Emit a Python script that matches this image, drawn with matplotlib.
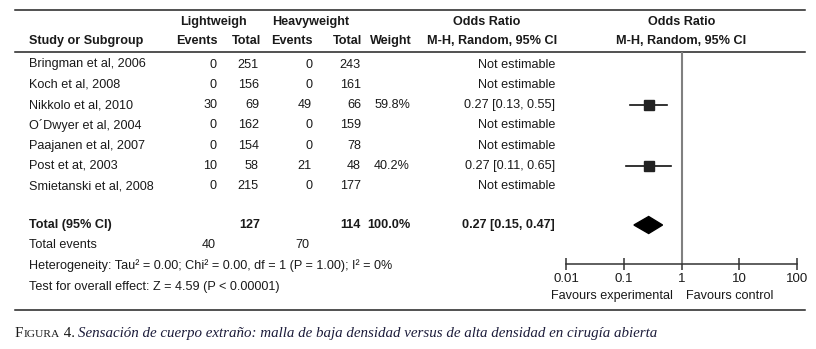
import matplotlib

matplotlib.use("Agg")
import matplotlib.pyplot as plt
from matplotlib.patches import Polygon

plt.rcParams["font.family"] = ["Liberation Sans", "DejaVu Sans"]

# --- data -------------------------------------------------------------
studies = [
    "Bringman et al, 2006",
    "Koch et al, 2008",
    "Nikkolo et al, 2010",
    "O\u00b4Dwyer et al, 2004",
    "Paajanen et al, 2007",
    "Post et at, 2003",
    "Smietanski et al, 2008",
]
light_events = [0, 0, 30, 0, 0, 10, 0]
light_total = [251, 156, 69, 162, 154, 58, 215]
heavy_events = [0, 0, 49, 0, 0, 21, 0]
heavy_total = [243, 161, 66, 159, 78, 48, 177]
weights = [None, None, 59.8, None, None, 40.2, None]
odds = [None, None, 0.27, None, None, 0.27, None]
ci_low = [None, None, 0.13, None, None, 0.11, None]
ci_high = [None, None, 0.55, None, None, 0.65, None]

total_light, total_heavy = 127, 114
events_light, events_heavy = 40, 70
pooled_or, pooled_lo, pooled_hi = 0.27, 0.15, 0.47

ticks = [0.01, 0.1, 1, 10, 100]
tick_labels = ["0.01", "0.1", "1", "10", "100"]

heterogeneity = "Heterogeneity: Tau\u00b2 = 0.00; Chi\u00b2 = 0.00, df = 1 (P = 1.00); I\u00b2 = 0%"
overall = "Test for overall effect: Z = 4.59 (P < 0.00001)"
caption = ("Sensación de cuerpo extraño: malla de baja densidad versus "
           "de alta densidad en cirugía abierta")

# --- layout (pixel coords) ---------------------------------------------
W, H = 816, 349
FS = 9.1
INK = "#1a1a1a"
row_y = [64.5 + 20.3 * i for i in range(len(studies))]
y_total, y_events, y_het, y_test = 225, 245.5, 266, 287
axis_y, head_line = 264, 52
x0, x1 = 566, 797

fig = plt.figure(figsize=(W / 100, H / 100), dpi=100)
ax = fig.add_axes([0, 0, 1, 1])
ax.set_xlim(0, W)
ax.set_ylim(H, 0)
ax.axis("off")


def txt(x, y, s, ha="left", bold=False, **kw):
    ax.text(x, y, s, ha=ha, va="center", fontsize=FS, color=INK,
            fontweight="bold" if bold else "normal", **kw)


# rules
for y in (10, head_line, 310):
    ax.plot([15, 805], [y, y], color="#222222", lw=1.1)

# headers
txt(180, 22, "Lightweigh", bold=True)
txt(272, 22, "Heavyweight", bold=True)
txt(487, 22, "Odds Ratio", ha="center", bold=True)
txt(682, 22, "Odds Ratio", ha="center", bold=True)
txt(29, 41, "Study or Subgroup", bold=True)
for x, s in [(218, "Events"), (261, "Total"), (313, "Events"),
             (362, "Total"), (412, "Weight"), (557, "M-H, Random, 95% CI")]:
    txt(x, 41, s, ha="right", bold=True)
txt(681, 41, "M-H, Random, 95% CI", ha="center", bold=True)

# study rows
for i, y in enumerate(row_y):
    txt(29, y, studies[i])
    txt(217, y, str(light_events[i]), ha="right")
    txt(259, y, str(light_total[i]), ha="right")
    txt(312, y, str(heavy_events[i]), ha="right")
    txt(361, y, str(heavy_total[i]), ha="right")
    if weights[i] is not None:
        txt(410, y, f"{weights[i]:.1f}%", ha="right")
        txt(555, y, f"{odds[i]:.2f} [{ci_low[i]:.2f}, {ci_high[i]:.2f}]", ha="right")
    else:
        txt(555, y, "Not estimable", ha="right")

# totals
txt(29, y_total, "Total (95% CI)", bold=True)
txt(260, y_total, str(total_light), ha="right", bold=True)
txt(361, y_total, str(total_heavy), ha="right", bold=True)
txt(411, y_total, "100.0%", ha="right", bold=True)
txt(555, y_total, f"{pooled_or:.2f} [{pooled_lo:.2f}, {pooled_hi:.2f}]", ha="right", bold=True)
txt(29, y_events, "Total events")
txt(216, y_events, str(events_light), ha="right")
txt(309, y_events, str(events_heavy), ha="right")
txt(29, y_het, heterogeneity)
txt(29, y_test, overall)

# forest panel
fax = fig.add_axes([x0 / W, (H - axis_y) / H, (x1 - x0) / W, (axis_y - head_line) / H])
fax.set_xscale("log")
fax.set_xlim(0.01, 100)
fax.set_ylim(axis_y, head_line)
fax.patch.set_alpha(0)
for side in ("top", "left", "right"):
    fax.spines[side].set_visible(False)
fax.spines["bottom"].set_color("#333333")
fax.spines["bottom"].set_linewidth(1.1)
fax.set_yticks([])
fax.set_xticks(ticks)
fax.set_xticklabels(tick_labels)
fax.minorticks_off()
fax.tick_params(axis="x", direction="inout", length=9, width=1.1, color="#333333",
                labelsize=9.5, labelcolor=INK, pad=2)
fax.axvline(1, color="#808080", lw=1.5)

for i, y in enumerate(row_y):
    if odds[i] is None:
        continue
    fax.plot([ci_low[i], ci_high[i]], [y, y], color="#111111", lw=1.2)
    side_px = 1.42 * weights[i] ** 0.5
    fax.plot(odds[i], y, marker="s", ms=side_px * 0.72, color="#222222", mec="#222222")

half = 8.5
fax.add_patch(Polygon([(pooled_lo, y_total), (pooled_or, y_total - half),
                       (pooled_hi, y_total), (pooled_or, y_total + half)],
                      closed=True, color="#000000"))

txt(673, 296, "Favours experimental", ha="right")
txt(686, 296, "Favours control")

# caption: small-caps label + italic serif text
cap_y = 337
t1 = ax.text(15, cap_y, "F", fontsize=10.8, family="Liberation Serif", color=INK, va="baseline")
t2 = ax.annotate("IGURA", xy=(1, cap_y), xycoords=(t1, "data"), fontsize=8.2,
                 family="Liberation Serif", color=INK, va="baseline")
t3 = ax.annotate(" 4. ", xy=(1, cap_y), xycoords=(t2, "data"), fontsize=10.8,
                 family="Liberation Serif", color=INK, va="baseline")
ax.annotate(caption, xy=(1, cap_y), xycoords=(t3, "data"), fontsize=10.8,
            family="Liberation Serif", style="italic", color="#1c1c3a", va="baseline")

fig.savefig("out.png", dpi=100)
